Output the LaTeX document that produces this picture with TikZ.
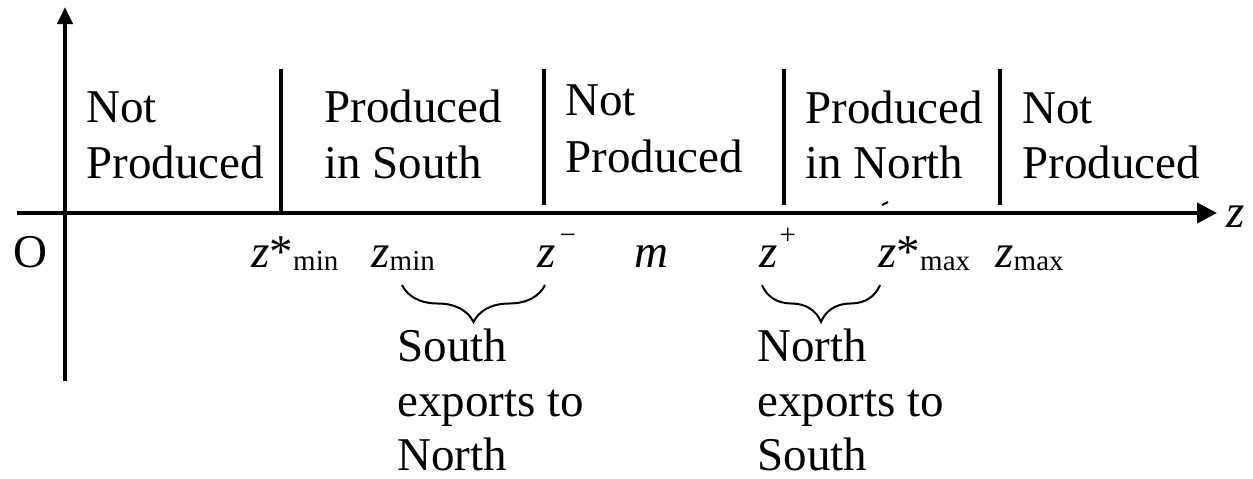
\documentclass[tikz,border=0pt]{standalone}
\usepackage{fontspec}
\setmainfont{Liberation Serif}
\usetikzlibrary{arrows.meta,decorations.pathreplacing}
\newcommand{\sbs}[1]{\raisebox{-1.5pt}{\fontsize{14.5}{16}\selectfont #1}}
\newcommand{\sps}[1]{\raisebox{11.5pt}{\fontsize{14.5}{16}\selectfont #1}}
\begin{document}
\begin{tikzpicture}[x=0.5pt,y=-0.5pt,
  axis/.style={line width=2pt},
  divider/.style={line width=2pt},
  lbl/.style={anchor=base west,inner sep=0pt,font=\fontsize{23.5}{28}\selectfont},
  brc/.style={line width=1pt,decorate,decoration={brace,mirror,amplitude=18.5pt}},
]
\useasboundingbox (0,0) rectangle (1253,478);
% axes
\coordinate (xs) at (17,213); \coordinate (xe) at (1217,213);
\coordinate (ys) at (65,381); \coordinate (ye) at (65,7);
\draw[axis,-{Triangle[length=10pt,width=10pt]}] (xs) -- (xe);
\draw[axis,-{Triangle[length=8.5pt,width=7.5pt]}] (ys) -- (ye);
% dividers
\coordinate (d1t) at (281,69);  \coordinate (d1b) at (281,213);
\coordinate (d2t) at (544,69);  \coordinate (d2b) at (544,205);
\coordinate (d3t) at (784,69);  \coordinate (d3b) at (784,205);
\coordinate (d4t) at (1000,69); \coordinate (d4b) at (1000,205);
\draw[divider] (d1t) -- (d1b);
\draw[divider] (d2t) -- (d2b);
\draw[divider] (d3t) -- (d3b);
\draw[divider] (d4t) -- (d4b);
% small stray mark
\coordinate (sm1) at (882,205); \coordinate (sm2) at (888,202);
\draw[line width=1pt] (sm1) -- (sm2);
% region texts
\node[lbl] (r1a) at (86,122) {Not};
\node[lbl] (r1b) at (86,178) {Produced};
\node[lbl] (r2a) at (324,122) {Produced};
\node[lbl] (r2b) at (324,178) {in South};
\node[lbl] (r3a) at (565,115) {Not};
\node[lbl] (r3b) at (565,172) {Produced};
\node[lbl] (r4a) at (805,123) {Produced};
\node[lbl] (r4b) at (805,178) {in North};
\node[lbl] (r5a) at (1022,123) {Not};
\node[lbl] (r5b) at (1022,178) {Produced};
% axis labels
\node[lbl] (zax) at (1226,227) {\textit{z}};
\node[lbl] (O) at (13,267) {O};
\node[lbl] (zsmin) at (251,267) {\textit{z}*\sbs{min}};
\node[lbl] (zmin) at (371,267) {\textit{z}\sbs{min}};
\node[lbl] (zminus) at (537,267) {\textit{z}\kern2pt\sps{−}};
\node[lbl] (m) at (634,267) {\textit{m}};
\node[lbl] (zplus) at (759,267) {\textit{z}\kern1pt\sps{+}};
\node[lbl] (zsmax) at (878,267) {\textit{z}*\sbs{max}};
\node[lbl] (zmax) at (995,267) {\textit{z}\sbs{max}};
% braces
\coordinate (b1l) at (402,285); \coordinate (b1r) at (545,285);
\coordinate (b2l) at (762,285); \coordinate (b2r) at (880,285);
\draw[brc] (b1l) -- (b1r);
\draw[brc] (b2l) -- (b2r);
% bottom texts
\node[lbl] (s1) at (397,361) {South};
\node[lbl] (s2) at (397,416) {exports to};
\node[lbl] (s3) at (397,470) {North};
\node[lbl] (n1) at (757,361) {North};
\node[lbl] (n2) at (757,416) {exports to};
\node[lbl] (n3) at (757,470) {South};
\end{tikzpicture}
\end{document}
